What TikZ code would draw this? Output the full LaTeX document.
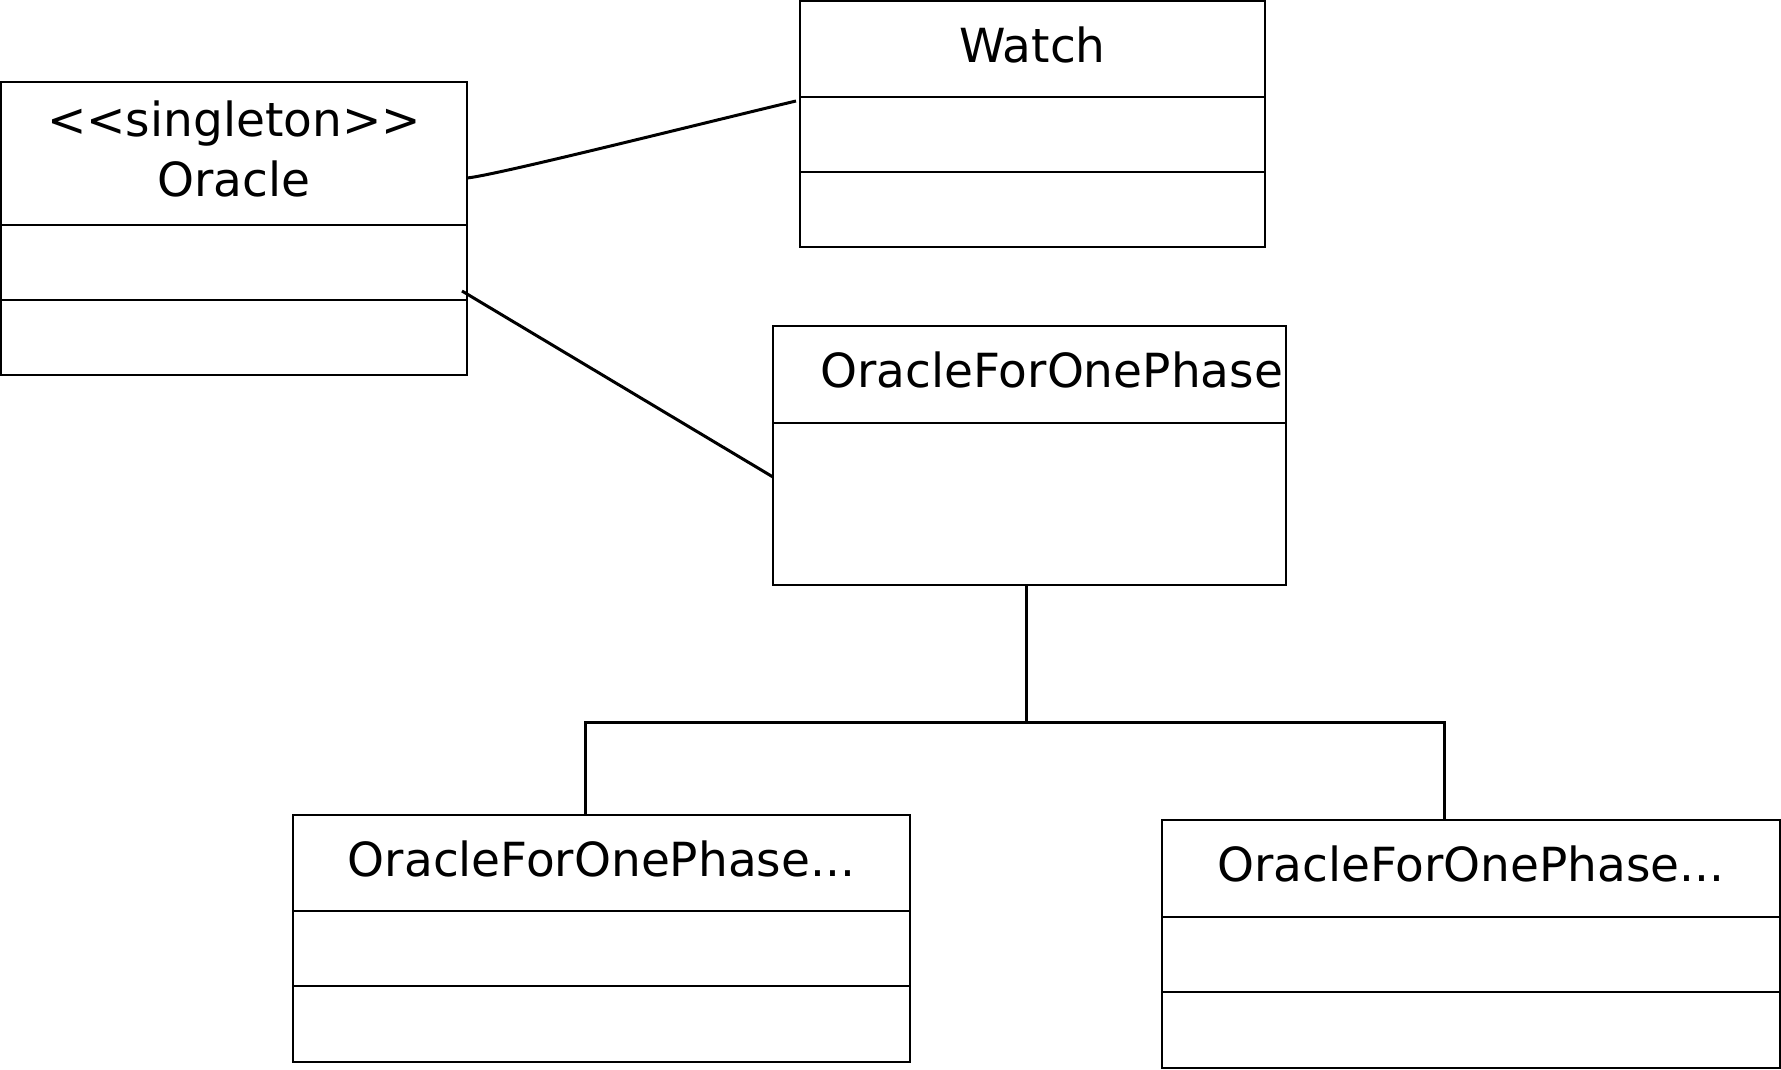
\documentclass[tikz,border=0pt]{standalone}
\usepackage{fontspec}
\setmainfont{DejaVu Sans}
\usetikzlibrary{positioning}

\begin{document}
\begin{tikzpicture}[x=1pt, y=-1pt,
  head/.style={rectangle, draw, line width=1.3pt, inner sep=3pt, outer sep=0pt, anchor=north west, minimum height=97pt, text depth=9pt, align=center, font=\fontsize{47pt}{60pt}\selectfont},
  part/.style={rectangle, draw, line width=1.3pt, inner sep=0pt, outer sep=0pt, minimum height=75pt},
  line/.style={draw, line width=3pt}
]
\useasboundingbox (0,0) rectangle (1781,1069);

\node [head, minimum width=466pt, minimum height=143pt] (oracle) at (1,82) {<{}<singleton>{}>\\ Oracle};
\node [part, minimum width=466pt, below=0pt of oracle] (oracleattr) {};
\node [part, minimum width=466pt, below=0pt of oracleattr] (oracleop) {};

\node [head, minimum width=465pt, minimum height=96pt] (watch) at (800,1) {Watch};
\node [part, minimum width=465pt, below=0pt of watch] (watchattr) {};
\node [part, minimum width=465pt, below=0pt of watchattr] (watchop) {};

\node [head, minimum width=513pt, text width=507pt, align=right] (phase) at (773,326) {OracleForOnePhase};
\node [part, minimum width=513pt, minimum height=162pt, below=0pt of phase] (phasebody) {};

\node [head, minimum width=617pt, minimum height=96pt] (phaseleft) at (293,815) {OracleForOnePhase...};
\node [part, minimum width=617pt, below=0pt of phaseleft] (phaseleftattr) {};
\node [part, minimum width=617pt, minimum height=76pt, below=0pt of phaseleftattr] (phaseleftop) {};

\node [head, minimum width=618pt] (phaseright) at (1162,820) {OracleForOnePhase...};
\node [part, minimum width=618pt, below=0pt of phaseright] (phaserightattr) {};
\node [part, minimum width=618pt, minimum height=76pt, below=0pt of phaserightattr] (phaserightop) {};

\path [line] ([yshift=-24.5pt]oracle.east) .. controls +(30,-3) and +(-97,23) .. ([xshift=-4pt,yshift=-4pt]watchattr.north west);
\path [line] ([xshift=-5pt,yshift=-28.5pt]oracleattr.east) -- ([yshift=27pt]phasebody.west);

\coordinate (fork) at ([xshift=-3.5pt,yshift=-137pt]phasebody.south);
\path [line] ([xshift=-3.5pt]phasebody.south) -- (fork);
\path [line] (fork) -| ([xshift=-16.5pt]phaseleft.north);
\path [line] (fork) -| ([xshift=-26.5pt]phaseright.north);
\end{tikzpicture}
\end{document}
